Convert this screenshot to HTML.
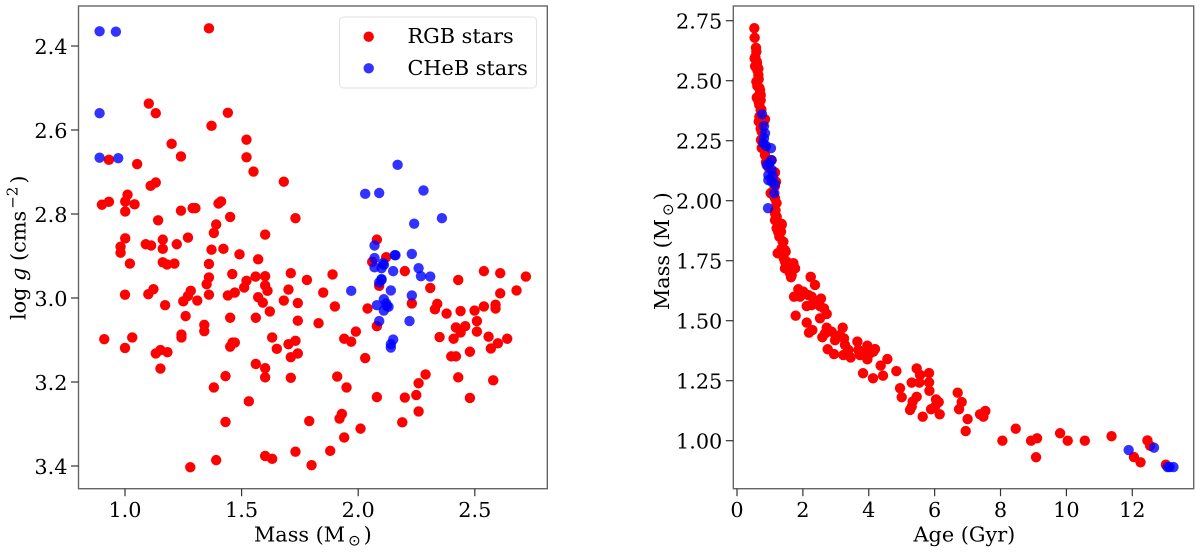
<!DOCTYPE html>
<html>
<head>
<meta charset="utf-8">
<title>Stellar mass, surface gravity and age</title>
<style>
html,body{margin:0;padding:0;background:#fff;width:1200px;height:553px;overflow:hidden}
svg{display:block}
text{font-family:"DejaVu Serif","Liberation Serif",serif;font-size:20.8px;fill:#000}
.sun{font-family:"DejaVu Sans","Liberation Sans",sans-serif}
</style>
</head>
<body>
<svg id="fig" width="1200" height="553" viewBox="0 0 1200 553" xmlns="http://www.w3.org/2000/svg">
  <g id="left-panel"></g>
  <g id="right-panel"></g>

  <text x="254" y="541.5">Mass (M<tspan class="sun" font-size="15" dx="3" dy="4">⊙</tspan><tspan dx="3" dy="-4">)</tspan></text>
  <text transform="translate(25.5,320) rotate(-90)">log <tspan font-style="italic">g</tspan> (cms<tspan font-size="15" dx="2" dy="-8">−2</tspan><tspan dx="3" dy="8">)</tspan></text>
  <text x="913.5" y="541.5">Age (Gyr)</text>
  <text transform="translate(669,310) rotate(-90)">Mass (M<tspan class="sun" font-size="15" dx="3" dy="4">⊙</tspan><tspan dx="3" dy="-4">)</tspan></text>

  <g>
    <rect x="339.5" y="17" width="197" height="71" rx="4" fill="#fff" fill-opacity="0.8" stroke="#e2e2e2" stroke-width="1"></rect>
    <circle cx="368.7" cy="36.7" r="5.2" fill="#f00"></circle>
    <text x="407.5" y="43">RGB stars</text>
    <circle cx="368.7" cy="68.3" r="5.2" fill="#00f" fill-opacity="0.8"></circle>
    <text x="407.5" y="75">CHeB stars</text>
  </g>
</svg>

<script>
// Left panel: surface gravity against mass
const rgbMass = [
1.360,1.102,1.132,1.441,1.371,1.521,1.200,1.521,1.240,0.931,1.052,1.551,1.681,1.132,1.110,1.011,1.001,0.931,0.901,1.041,1.412,1.401,1.001,1.240,1.290,1.302,1.451,1.731,1.142,1.391,1.381,1.601,1.001,1.270,1.162,0.981,0.981,1.089,1.112,1.222,1.162,1.371,1.422,1.491,1.571,1.021,1.162,1.180,1.212,1.360,1.711,1.360,1.460,1.560,1.601,1.521,
1.511,1.350,1.282,1.270,1.250,1.310,1.122,1.100,1.000,1.172,1.360,1.441,1.471,1.571,1.591,1.611,1.601,1.701,1.681,1.741,1.621,1.451,1.561,1.260,1.741,1.340,1.340,1.242,1.242,0.911,1.031,1.000,1.631,1.701,1.731,1.741,1.711,1.651,1.471,1.461,1.451,1.182,1.152,1.132,1.561,1.601,1.601,1.711,1.152,1.431,1.381,1.531,1.431,1.731,1.601,1.631,1.391,1.280,
1.780,1.890,1.850,1.830,1.900,1.940,1.970,1.990,2.030,2.040,2.080,2.090,1.910,1.950,2.080,2.200,2.249,2.259,2.289,2.259,2.189,2.010,1.940,1.880,1.800,1.790,1.920,1.930,2.230,2.309,2.429,2.609,2.679,2.719,2.609,2.539,2.200,2.339,2.329,2.379,2.439,2.499,2.539,2.589,2.589,2.509,2.459,2.419,2.439,2.509,2.349,2.409,2.559,2.599,2.639,2.569,2.479,2.399,2.419,2.429,2.579,2.479,
2.080,2.120,2.060];
const rgbLogg = [
2.358,2.537,2.560,2.559,2.590,2.623,2.633,2.665,2.663,2.671,2.681,2.699,2.723,2.725,2.733,2.754,2.770,2.771,2.778,2.777,2.770,2.775,2.794,2.792,2.786,2.786,2.807,2.810,2.815,2.825,2.845,2.849,2.858,2.856,2.861,2.878,2.892,2.872,2.875,2.872,2.883,2.885,2.883,2.896,2.908,2.918,2.915,2.920,2.918,2.919,2.941,2.951,2.943,2.949,2.948,2.959,
2.975,2.967,2.983,2.995,3.008,3.006,2.979,2.991,2.992,3.017,2.992,2.994,2.987,2.998,3.011,2.983,2.970,2.980,3.006,3.012,3.032,3.047,3.047,3.043,3.054,3.064,3.079,3.087,3.094,3.098,3.094,3.119,3.094,3.110,3.102,3.132,3.141,3.121,3.106,3.106,3.116,3.129,3.124,3.132,3.157,3.167,3.189,3.190,3.168,3.186,3.213,3.246,3.295,3.366,3.376,3.383,3.386,3.403,
2.957,2.944,2.987,3.060,3.020,3.097,3.104,3.080,3.143,3.025,3.067,2.971,3.187,3.213,3.236,3.237,3.231,3.203,3.182,3.270,3.296,3.311,3.332,3.364,3.398,3.293,3.287,3.276,3.013,2.976,2.957,2.989,2.982,2.949,2.941,2.936,2.936,3.014,3.027,3.037,3.031,3.030,3.020,3.016,3.025,3.055,3.067,3.070,3.082,3.080,3.093,3.097,3.092,3.108,3.097,3.120,3.128,3.139,3.139,3.189,3.196,3.238,
2.861,2.903,2.914];
const chebMass = [
0.891,0.961,0.891,0.891,0.971,
2.169,2.030,2.090,2.280,2.240,2.359,2.070,2.160,2.157,2.230,2.070,2.070,2.110,2.100,2.107,2.150,2.259,2.269,2.309,2.100,
1.970,2.140,2.230,2.090,2.100,2.110,2.080,2.120,2.130,2.110,2.123,2.090,2.220,2.150,2.140,2.140];
const chebLogg = [
2.365,2.366,2.560,2.666,2.667,
2.683,2.752,2.750,2.744,2.823,2.810,2.875,2.898,2.898,2.895,2.905,2.927,2.921,2.929,2.917,2.936,2.929,2.948,2.949,2.957,
2.983,2.982,2.994,2.963,2.955,3.003,3.017,3.013,3.021,3.030,3.019,3.055,3.055,3.099,3.110,3.118];
const massTicks = [1.0,1.5,2.0,2.5];
const loggTicks = [2.4,2.6,2.8,3.0,3.2,3.4];

// Right panel: mass against age
const rgbAge = [
.526,.536,.577,.557,.587,.536,.607,.617,.648,.658,.587,.617,.698,.678,.617,.719,.678,.719,.678,.850,.779,.749,.729,.800,.850,1.053,1.154,1.184,1.022,1.154,1.083,1.154,1.204,1.154,1.356,1.204,1.285,1.407,1.235,1.478,1.457,1.508,1.711,1.761,1.609,1.660,2.237,
1.356,1.336,1.387,1.457,1.508,1.711,1.457,1.609,1.761,1.640,2.237,2.368,1.731,1.862,2.014,1.913,2.166,2.267,2.551,2.116,2.267,2.368,2.520,2.642,2.723,1.781,2.520,2.116,2.287,2.186,2.723,2.591,2.672,3.209,2.875,2.976,3.128,3.249,3.279,2.753,2.945,3.229,3.451,3.381,3.654,3.684,3.735,3.957,4.190,4.038,3.957,4.139,3.836,4.565,4.362,3.826,4.129,4.433,4.838,5.455,5.557,5.830,5.304,5.537,5.830,5.840,4.949,5.000,5.455,5.334,5.304,5.253,6.043,6.124,6.012,5.891,6.153,5.638,6.700,6.822,6.741,7.000,6.943,7.379,7.480,7.540,
8.057,8.462,8.927,9.109,9.079,9.808,10.04,10.56,11.37,12.46,12.54,12.05,12.25,13.02,
.60,.55,.65,.62,.68,.60,.72,.66,.74,.66,.72,.80,.75,.83,.88,.95,1.10,1.15,1.12,1.20,1.17,1.25,1.30,1.25,1.35,1.42,1.55,1.60,1.70,1.65];
const rgbStellarMass = [
2.719,2.679,2.637,2.600,2.621,2.593,2.572,2.544,2.524,2.506,2.496,2.478,2.461,2.440,2.426,2.419,2.399,2.378,2.350,2.339,2.319,2.288,2.253,2.225,2.190,2.169,2.118,2.079,2.031,2.010,2.038,1.947,1.933,1.919,1.903,1.885,1.850,1.829,1.781,1.788,1.746,1.718,1.739,1.718,1.711,1.690,1.683,
1.899,1.871,1.829,1.794,1.746,1.739,1.718,1.711,1.718,1.681,1.682,1.649,1.600,1.631,1.621,1.600,1.607,1.600,1.592,1.561,1.565,1.572,1.561,1.551,1.528,1.521,1.510,1.492,1.461,1.450,1.471,1.431,1.447,1.471,1.454,1.419,1.440,1.426,1.399,1.381,1.361,1.357,1.347,1.378,1.413,1.378,1.357,1.396,1.382,1.364,1.339,1.371,1.371,1.340,1.313,1.281,1.260,1.271,1.290,1.301,1.274,1.282,1.242,1.242,1.243,1.208,1.219,1.181,1.183,1.163,1.142,1.128,1.172,1.161,1.142,1.131,1.110,1.100,1.200,1.161,1.131,1.090,1.040,1.110,1.100,1.124,
1.000,1.050,1.000,1.010,.931,1.031,1.000,1.000,1.019,1.001,.979,.932,.910,.900,
2.58,2.56,2.55,2.50,2.47,2.43,2.44,2.41,2.38,2.33,2.30,2.33,2.22,2.21,2.16,2.14,2.10,2.06,2.02,1.99,1.96,1.91,1.88,1.87,1.80,1.76,1.74,1.70,1.72,1.73];
const chebAge = [
.759,.820,.850,.820,.800,.881,1.032,1.043,.901,.982,1.053,.951,1.083,.951,1.053,1.154,1.134,.941,
11.89,12.66,13.07,13.13,13.25];
const chebStellarMass = [
2.360,2.311,2.281,2.260,2.239,2.228,2.219,2.169,2.149,2.156,2.128,2.107,2.103,2.086,2.079,2.069,2.031,1.969,
.961,.971,.890,.890,.890];
const ageTicks = [0,2,4,6,8,10,12];
const stellarMassTicks = [1.00,1.25,1.50,1.75,2.00,2.25,2.50,2.75];

const NS = 'http://www.w3.org/2000/svg';
const leftX = v => 125 + 233.2 * (v - 1);
const leftY = v => 46 + 420 * (v - 2.4);
const rightX = v => 737 + 32.94 * v;
const rightY = v => 200.7 - 240 * (v - 2);

function make(tag, attrs, parent) {
  const el = document.createElementNS(NS, tag);
  for (const k in attrs) el.setAttribute(k, attrs[k]);
  parent.appendChild(el);
  return el;
}

function drawAxes(g, box, xTicks, xFn, xFmt, yTicks, yFn, yFmt) {
  const frame = make('rect', {x: box.l, y: box.t, width: box.r - box.l, height: box.b - box.t, fill: 'none', stroke: '#666', 'stroke-width': 1.4}, g);
  
  
  xTicks.forEach(v => {
    const t = make('line', {x1: xFn(v), x2: xFn(v), y1: box.b, y2: box.b + 7.5, stroke: '#333', 'stroke-width': 1.2}, g);
    
    
    const l = make('text', {x: xFn(v), y: box.b + 28.3, 'text-anchor': 'middle'}, g);
    
    
    l.textContent = xFmt(v);
  });
  yTicks.forEach(v => {
    const t = make('line', {x1: box.l - 7.5, x2: box.l, y1: yFn(v), y2: yFn(v), stroke: '#333', 'stroke-width': 1.2}, g);
    
    
    const l = make('text', {x: box.l - 11, y: yFn(v) + 7.8, 'text-anchor': 'end'}, g);
    
    
    l.textContent = yFmt(v);
  });
}

function drawPoints(g, xs, ys, xFn, yFn, color, opacity, name) {
  xs.forEach((v, i) => {
    const c = make('circle', {cx: xFn(v), cy: yFn(ys[i]), r: 5.2, fill: color, 'fill-opacity': opacity}, g);
    
    
  });
}

const leftG = document.getElementById('left-panel');
const rightG = document.getElementById('right-panel');
drawPoints(leftG, rgbMass, rgbLogg, leftX, leftY, '#f00', 1, 'rgb-star-point');
drawPoints(leftG, chebMass, chebLogg, leftX, leftY, '#00f', 0.8, 'cheb-star-point');
drawAxes(leftG, {l: 78.5, r: 547.3, t: 6, b: 488.7}, massTicks, leftX, v => v.toFixed(1), loggTicks, leftY, v => v.toFixed(1));
drawPoints(rightG, rgbAge, rgbStellarMass, rightX, rightY, '#f00', 1, 'rgb-star-point');
drawPoints(rightG, chebAge, chebStellarMass, rightX, rightY, '#00f', 0.8, 'cheb-star-point');
drawAxes(rightG, {l: 733.3, r: 1193.7, t: 6, b: 488.7}, ageTicks, rightX, v => String(v), stellarMassTicks, rightY, v => v.toFixed(2));
</script>
</body>
</html>
